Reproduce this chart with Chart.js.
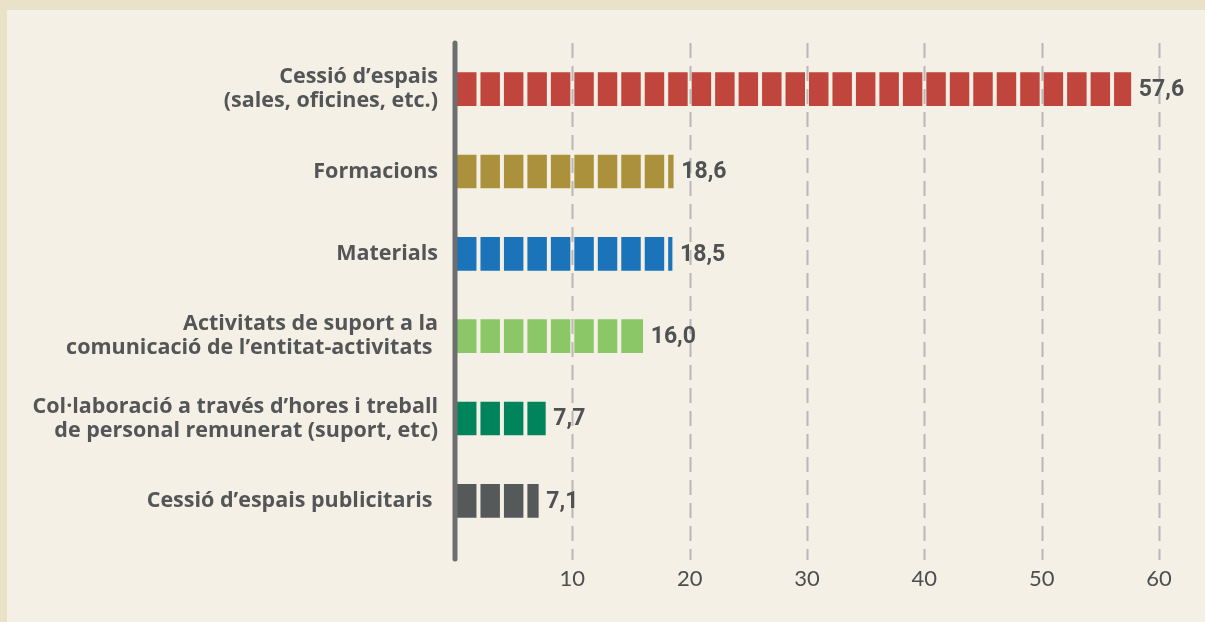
<!DOCTYPE html>
<html>
<head>
<meta charset="utf-8">
<script src="https://cdn.jsdelivr.net/npm/chart.js@4"></script>
<style>
  html, body { margin: 0; padding: 0; background: #f4f0e6; }
  #wrap { width: 1205px; height: 622px; }
</style>
</head>
<body>
<div id="wrap"><canvas id="chart" width="1205" height="622"></canvas></div>
<script>
const categories = [
  ["Cessió d’espais", "(sales, oficines, etc.)"],
  "Formacions",
  "Materials",
  ["Activitats de suport a la", "comunicació de l’entitat-activitats "],
  ["Col·laboració a través d’hores i treball", "de personal remunerat (suport, etc)"],
  "Cessió d’espais publicitaris "
];
const values = [57.6, 18.6, 18.5, 16.0, 7.7, 7.1];
const valueLabels = ["57,6", "18,6", "18,5", "16,0", "7,7", "7,1"];
const barColors = ["#c0453c", "#ab913b", "#1b74ba", "#8bc766", "#00845b", "#56595a"];
const xTicks = [10, 20, 30, 40, 50, 60];

const BG = "#f4f0e6";

const framePlugin = {
  id: "frame",
  beforeDraw(chart) {
    const ctx = chart.ctx;
    ctx.save();
    ctx.fillStyle = "#e9e2c9";
    ctx.fillRect(0, 0, chart.width, chart.height);
    ctx.fillStyle = BG;
    ctx.fillRect(7, 10, chart.width - 7, chart.height - 10);
    ctx.restore();
  }
};

// segment gaps, dashed grid, axis line and value labels
const overlayPlugin = {
  id: "overlay",
  afterDatasetsDraw(chart) {
    const ctx = chart.ctx;
    const xs = chart.scales.x;
    const meta = chart.getDatasetMeta(0);
    ctx.save();

    meta.data.forEach((bar, i) => {
      const h = bar.height;
      ctx.fillStyle = BG;
      for (let v = 2; v < values[i]; v += 2) {
        const px = xs.getPixelForValue(v);
        ctx.fillRect(px - 2, bar.y - h / 2 - 1, 4, h + 2);
      }
    });

    ctx.strokeStyle = "rgba(160,160,165,0.7)";
    ctx.lineWidth = 2;
    ctx.setLineDash([15, 8]);
    xTicks.forEach(t => {
      const px = Math.round(xs.getPixelForValue(t)) + 0.5;
      ctx.beginPath();
      ctx.moveTo(px, 43);
      ctx.lineTo(px, 560);
      ctx.stroke();
    });
    ctx.setLineDash([]);

    const x0 = xs.getPixelForValue(0);
    ctx.strokeStyle = "#6d6e70";
    ctx.lineWidth = 5;
    ctx.lineCap = "round";
    ctx.beginPath();
    ctx.moveTo(x0, 43);
    ctx.lineTo(x0, 559);
    ctx.stroke();

    ctx.fillStyle = "#4f5153";
    ctx.font = "bold 23px Roboto";
    ctx.textBaseline = "middle";
    ctx.textAlign = "left";
    meta.data.forEach((bar, i) => {
      ctx.fillText(valueLabels[i], bar.x + 8, bar.y + 1);
    });
    ctx.restore();
  }
};

new Chart(document.getElementById("chart"), {
  type: "bar",
  data: {
    labels: categories,
    datasets: [{
      data: values,
      backgroundColor: barColors,
      barThickness: 33,
      borderWidth: 0
    }]
  },
  options: {
    indexAxis: "y",
    responsive: false,
    animation: false,
    layout: { padding: { top: 48, right: 46, bottom: 0, left: 0 } },
    plugins: {
      legend: { display: false },
      tooltip: { enabled: false }
    },
    scales: {
      x: {
        min: 0,
        max: 60,
        afterFit(scale) { scale.height = 80; },
        afterBuildTicks(scale) { scale.ticks = xTicks.map(v => ({ value: v })); },
        grid: { display: false, drawTicks: false },
        border: { display: false },
        ticks: {
          padding: 24,
          color: "#4c4e50",
          font: { family: "Lato", size: 22, weight: "normal" }
        }
      },
      y: {
        afterFit(scale) { scale.width = 455; },
        grid: { display: false, drawTicks: false },
        border: { display: false },
        ticks: {
          padding: 17,
          color: "#535557",
          font: { family: "Open Sans", size: 21.5, weight: "bold", lineHeight: 1.12 }
        }
      }
    }
  },
  plugins: [framePlugin, overlayPlugin]
});
</script>
</body>
</html>
